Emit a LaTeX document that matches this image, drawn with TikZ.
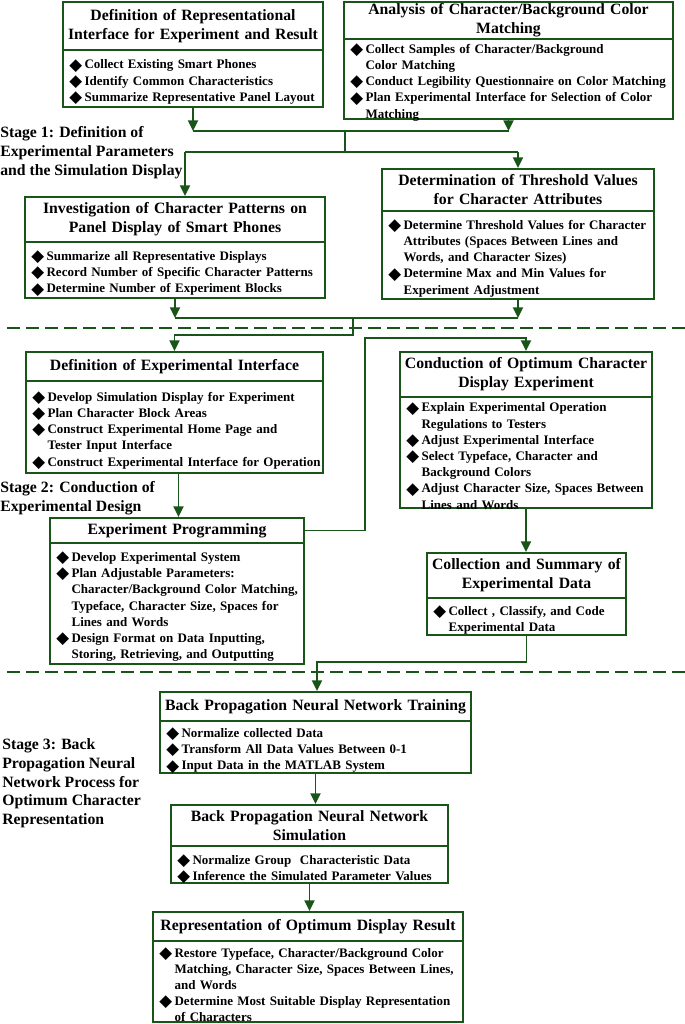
\documentclass[tikz,border=0pt]{standalone}
\usepackage{fontspec}
\setmainfont{Liberation Serif}
\newfontfamily\symf{DejaVu Sans}
\usetikzlibrary{arrows.meta,fit,calc}
\definecolor{dg}{RGB}{25,85,25}
\newcommand\dia{\smash{\raisebox{-0.9pt}{\symf\fontsize{12.5}{12}\selectfont ◆}}}
\newcommand\itm{\par\noindent\hangindent=11.5pt\hangafter=1\makebox[11.5pt][l]{\dia}}
\newcommand\nl{\hfil\break}
\tikzset{
  boxst/.style={draw=dg, line width=1.4pt, inner sep=0pt, fill=white},
  divst/.style={draw=dg, line width=1.4pt},
  ttl/.style={inner sep=0pt, align=center, font=\bfseries\fontsize{11.8}{14.2}\selectfont},
  bdy/.style={inner sep=0pt, align=left, font=\bfseries\fontsize{9.75}{12.15}\selectfont},
  stg/.style={inner sep=0pt, align=left, anchor=north west, font=\bfseries\fontsize{11.8}{14}\selectfont},
  ln/.style={draw=dg, line width=1.4pt},
  arr/.style={draw=dg, line width=1.4pt, -{Triangle[length=8pt,width=7.5pt]}},
  dsh/.style={draw=dg, line width=1.5pt, dash pattern=on 9.75pt off 4.5pt}
}
\newcommand\mkbox[8]{%
  \node[boxst, fit={(#2,#3) (#4,#5)}] (#1) {};
  \draw[divst] (#2,#6) -- (#4,#6);
  \pgfmathsetmacro\tw{(#4-#2+40)*0.75}
  \node[ttl, text width=\tw pt] (#1t) at ({(#2+#4)/2},{(#3+#6)/2}) {#7};
  \node[bdy, text width=\tw pt, anchor=west] (#1b) at ({#2+6},{(#6+#5)/2}) {#8\par};
}
\begin{document}
\begin{tikzpicture}[x=0.75pt,y=-0.75pt]
\useasboundingbox (0,0) rectangle (685,1024);

% stage separators
\draw[dsh] (7,328) -- (685,328);
\draw[dsh] (7,672) -- (685,672);

% boxes
\mkbox{b1}{63}{2}{323}{107}{50}{Definition of Representational\\Interface for Experiment and Result}
{\itm Collect Existing Smart Phones\itm Identify Common Characteristics\itm Summarize Representative Panel Layout}
\mkbox{b2}{344}{2}{673}{119}{39}{Analysis of Character/Background Color\\Matching}
{\itm Collect Samples of Character/Background\nl Color Matching\itm Conduct Legibility Questionnaire on Color Matching\itm Plan Experimental Interface for Selection of Color\nl Matching}
\mkbox{b3}{25}{197}{325}{298}{242}{Investigation of Character Patterns on\\Panel Display of Smart Phones}
{\itm Summarize all Representative Displays\itm Record Number of Specific Character Patterns\itm Determine Number of Experiment Blocks}
\mkbox{b4}{382}{169}{654}{299}{211}{Determination of Threshold Values\\for Character Attributes}
{\itm Determine Threshold Values for Character\nl Attributes (Spaces Between Lines and\nl Words, and Character Sizes)\itm Determine Max and Min Values for\nl Experiment Adjustment}
\mkbox{b5}{26}{352}{323}{473}{381}{Definition of Experimental Interface}
{\itm Develop Simulation Display for Experiment\itm Plan Character Block Areas\itm Construct Experimental Home Page and\nl Tester Input Interface\itm Construct Experimental Interface for Operation}
\mkbox{b6}{400}{352}{652}{508}{397}{Conduction of Optimum Character\\Display Experiment}
{\itm Explain Experimental Operation\nl Regulations to Testers\itm Adjust Experimental Interface\itm Select Typeface, Character and\nl Background Colors\itm Adjust Character Size, Spaces Between\nl Lines and Words}
\mkbox{b7}{50}{518}{304}{664}{543}{Experiment Programming}
{\itm Develop Experimental System\itm Plan Adjustable Parameters:\nl Character/Background Color Matching,\nl Typeface, Character Size, Spaces for\nl Lines and Words\itm Design Format on Data Inputting,\nl Storing, Retrieving, and Outputting}
\mkbox{b8}{427}{553}{626}{635}{598}{Collection and Summary of\\Experimental Data}
{\itm Collect , Classify, and Code\nl Experimental Data}
\mkbox{b9}{160}{692}{471}{773}{721}{Back Propagation Neural Network Training}
{\itm Normalize collected Data\itm Transform All Data Values Between 0-1\itm Input Data in the MATLAB System}
\mkbox{b10}{171}{805}{448}{883}{846}{Back Propagation Neural Network\\Simulation}
{\itm Normalize Group\ \ Characteristic Data\itm Inference the Simulated Parameter Values}
\mkbox{b11}{153}{912}{463}{1022}{941}{Representation of Optimum Display Result}
{\itm Restore Typeface, Character/Background Color\nl Matching, Character Size, Spaces Between Lines,\nl and Words\itm Determine Most Suitable Display Representation\nl of Characters}

% stage labels
\node[stg] (s1) at (0,126.5) {Stage 1: Definition of\\Experimental Parameters\\and the Simulation Display};
\node[stg] (s2) at (0,481.5) {Stage 2: Conduction of\\Experimental Design};
\node[stg] (s3l) at (2,738.5) {Stage 3: Back\\Propagation Neural\\Network Process for\\Optimum Character\\Representation};

% junction coordinates
\coordinate (j1) at (345,131);
\coordinate (j2) at (345,152);
\coordinate (s3) at (185,152);
\coordinate (j3) at (353,318);
\coordinate (j4) at (353,335);
\coordinate (c4) at (365,338);
\coordinate (c6) at (317,662);

% stage 1 connectors
\draw[arr] (b1.south) -- (b1.south |- j1);
\draw[arr] (b2.south) -- (b2.south |- j1);
\draw[ln] (b1.south |- j1) -- (b2.south |- j1);
\draw[ln] (j1) -- (j2);
\draw[ln] (s3) -- (b4.north |- j2);
\draw[arr] (s3) -- (s3 |- b3.north);
\draw[arr] (b4.north |- j2) -- (b4.north);
\draw[arr] (b3.south) -- (b3.south |- j3);
\draw[arr] (b4.south) -- (b4.south |- j3);
\draw[ln] (b3.south |- j3) -- (b4.south |- j3);
\draw[arr] (j3) -- (j4) -| (b5.north);

% stage 2 connectors
\draw[arr] ([xshift=3pt]b5.south) -- ([xshift=3pt]b5.south |- b7.north);
\draw[arr] (b7t -| b7.east) -| (c4) -| (b6.north);
\draw[arr] (b6.south) -- (b6.south |- b8.north);
\draw[arr] (b8.south) |- (c6) -- (c6 |- b9.north);

% stage 3 connectors
\draw[arr] (b9.south) -- (b9.south |- b10.north);
\draw[arr] (b10.south) -- (b10.south |- b11.north);
\end{tikzpicture}
\end{document}
